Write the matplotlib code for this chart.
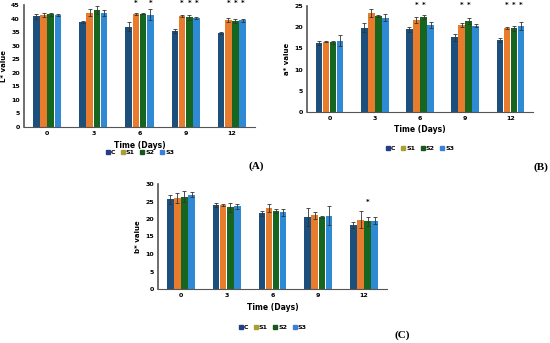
import numpy as np
import matplotlib.pyplot as plt

# data
days = ['0', '3', '6', '9', '12']
groups = ['C', 'S1', 'S2', 'S3']

L_val = [[40.8, 38.7, 37.0, 35.5, 34.8],
         [41.2, 42.2, 41.7, 40.9, 39.4],
         [41.5, 43.2, 41.8, 40.4, 39.2],
         [41.3, 42.0, 41.4, 40.2, 39.3]]
L_err = [[0.8, 0.3, 1.6, 0.8, 0.4],
         [0.7, 1.2, 0.4, 0.5, 0.8],
         [0.6, 1.5, 0.2, 0.9, 0.8],
         [0.5, 1.0, 2.0, 0.5, 0.6]]
L_star = [(2, 1), (2, 3), (3, 1), (3, 2), (3, 3), (4, 1), (4, 2), (4, 3)]

a_val = [[16.2, 19.9, 19.5, 17.6, 17.0],
         [16.6, 23.3, 21.7, 20.5, 19.8],
         [16.4, 22.7, 22.4, 21.4, 19.8],
         [16.8, 22.2, 20.5, 20.4, 20.3]]
a_err = [[0.5, 1.0, 0.6, 0.8, 0.5],
         [0.1, 1.0, 0.7, 0.5, 0.3],
         [0.4, 0.2, 0.5, 0.7, 0.6],
         [1.3, 0.8, 0.8, 0.4, 1.0]]
a_star = [(2, 1), (2, 2), (3, 1), (3, 2), (4, 1), (4, 2), (4, 3)]

b_val = [[25.6, 24.0, 21.6, 20.6, 18.2],
         [25.9, 24.0, 23.1, 21.1, 19.8],
         [26.4, 23.3, 22.2, 20.6, 19.3],
         [27.0, 23.6, 21.9, 21.0, 19.5]]
b_err = [[1.2, 0.7, 0.6, 2.5, 0.9],
         [1.4, 0.3, 1.2, 1.0, 2.4],
         [1.6, 1.2, 0.6, 0.4, 1.2],
         [0.7, 0.8, 0.9, 2.8, 1.0]]
b_star = [(4, 2)]

colors = ['#1d4f7c', '#e87b2c', '#17661f', '#2f8ad6']
leg_colors = ['#233f84', '#a8a032', '#17571c', '#3a7fd8']

W, H = 550, 343
fig = plt.figure(figsize=(5.5, 3.43), dpi=100)


def panel(px_left, px_right, px_top, px_bottom, vals, errs, stars, ymax,
          ylabel, tag, tagxy, xlab_y, leg_y, star_y):
    ax = fig.add_axes([px_left / W, 1 - px_bottom / H,
                       (px_right - px_left) / W, (px_bottom - px_top) / H])
    x = np.arange(len(days))
    bw = 0.155
    for i in range(4):
        ax.bar(x + (i - 1.5) * bw, vals[i], bw * 0.92, yerr=errs[i],
               color=colors[i], ecolor='#333333', error_kw=dict(lw=0.6, capsize=1.2, capthick=0.6))
    for g, s in stars:
        ax.text(g + (s - 1.5) * bw, star_y, '*', ha='center', va='center',
                fontsize=5, fontweight='bold')
    ax.set_xlim(-0.5, 4.5)
    ax.set_ylim(0, ymax)
    ax.set_yticks(np.arange(0, ymax + 1, 5))
    ax.set_xticks(x)
    ax.set_xticklabels(days)
    ax.tick_params(length=0, labelsize=4.5, pad=3)
    for lab in ax.get_xticklabels() + ax.get_yticklabels():
        lab.set_fontweight('bold')
    for sp in ['top', 'right']:
        ax.spines[sp].set_visible(False)
    ax.spines['left'].set_color('#555555')
    ax.spines['left'].set_linewidth(1.2)
    ax.spines['bottom'].set_color('#555555')
    ax.spines['bottom'].set_linewidth(0.8)
    ax.set_ylabel(ylabel, fontsize=5, fontweight='bold', labelpad=3)
    cx = (px_left + px_right) / 2 / W
    fig.text(cx, 1 - xlab_y / H, 'Time (Days)', ha='center', va='center',
             fontsize=5.5, fontweight='bold')
    handles = [plt.Line2D([], [], marker='s', ls='', color=c, markersize=2.5) for c in leg_colors]
    fig.legend(handles, groups, loc='center', bbox_to_anchor=(cx, 1 - leg_y / H),
               ncol=4, frameon=False, prop=dict(size=4.5, weight='bold'),
               handletextpad=0.1, columnspacing=0.8, handlelength=0.8)
    fig.text(tagxy[0] / W, 1 - tagxy[1] / H, tag, ha='center', va='center',
             fontsize=8, fontweight='bold', family='Liberation Serif')
    return ax


panel(24, 255, 5, 127, L_val, L_err, L_star, 45, 'L* value', '(A)', (256, 166), 146, 152, 45.8)
panel(307, 533, 6, 112, a_val, a_err, a_star, 25, 'a* value', '(B)', (541, 167), 129, 148, 25.3)
panel(158, 387, 184, 289, b_val, b_err, b_star, 30, 'b* value', '(C)', (402, 335), 308, 327, 25.0)

fig.savefig('out.png', dpi=100)
